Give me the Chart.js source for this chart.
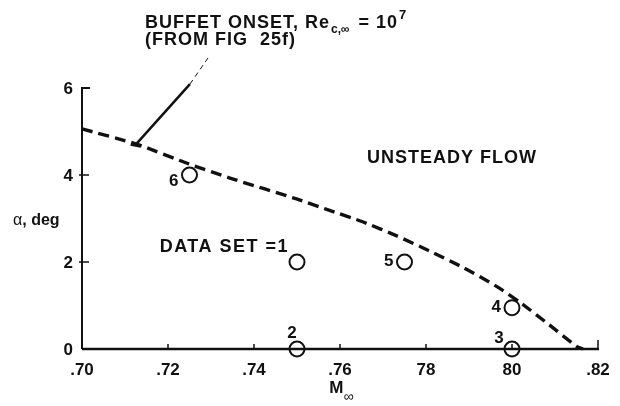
<!DOCTYPE html>
<html>
<head>
<meta charset="utf-8">
<script src="https://cdn.jsdelivr.net/npm/chart.js@4"></script>
<style>
    html, body { margin: 0; padding: 0; background: #ffffff; }
    canvas { display: block; }
</style>
</head>
<body>
<canvas id="buffetChart" width="620" height="406"></canvas>
<script>
// buffet onset boundary (dashed curve)
const curveMach = [0.700, 0.7127, 0.7247, 0.7344, 0.7499, 0.7569, 0.7654, 0.7732, 0.7809, 0.7887, 0.7964, 0.8019, 0.8081, 0.8150, 0.8165];
const curveAlpha = [5.06, 4.71, 4.26, 3.93, 3.45, 3.21, 2.92, 2.60, 2.25, 1.87, 1.44, 1.07, 0.60, 0.06, 0.00];

// data sets (open circles)
const setNames = ['1', '2', '3', '4', '5', '6'];
const setMach = [0.750, 0.750, 0.800, 0.800, 0.775, 0.725];
const setAlpha = [2.0, 0.0, 0.0, 0.95, 2.0, 4.0];

// axis ticks
const machTicks = [0.70, 0.72, 0.74, 0.76, 0.78, 0.80, 0.82];
const machTickLabels = ['.70', '.72', '.74', '.76', '78', '80', '.82'];
const alphaTicks = [0, 2, 4, 6];
const alphaTickLabels = ['0', '2', '4', '6'];

// leader from the curve up to the note
const leaderMach = [0.7127, 0.7251, 0.7293];
const leaderAlpha = [4.72, 6.09, 6.69];

document.addEventListener('DOMContentLoaded', function () {
    const ink = '#111111';
    const fontFamily = '"Liberation Sans", Arial, Helvetica, sans-serif';

    function toPoints(xs, ys) {
        return xs.map(function (x, i) {
            return { x: x, y: ys[i] };
        });
    }

    function drawText(ctx, text, x, y, size, align, weight, spacing) {
        ctx.font = (weight || 'bold') + ' ' + size + 'px ' + fontFamily;
        ctx.letterSpacing = (spacing || 0) + 'px';
        ctx.textAlign = align || 'left';
        ctx.textBaseline = 'alphabetic';
        ctx.fillText(text, x, y);
        const w = ctx.measureText(text).width;
        ctx.letterSpacing = '0px';
        return w;
    }

    const decorPlugin = {
        id: 'decor',
        afterDatasetsDraw: function (chart) {
            const ctx = chart.ctx;
            const xs = chart.scales.x;
            const ys = chart.scales.y;
            const x0 = xs.getPixelForValue(machTicks[0]);
            const x1 = xs.getPixelForValue(machTicks[machTicks.length - 1]);
            const y0 = ys.getPixelForValue(alphaTicks[0]);
            const y1 = ys.getPixelForValue(alphaTicks[alphaTicks.length - 1]);

            ctx.save();
            ctx.strokeStyle = ink;
            ctx.fillStyle = ink;
            ctx.lineCap = 'butt';

            // axes
            ctx.lineWidth = 2.5;
            ctx.beginPath();
            ctx.moveTo(x0, y0);
            ctx.lineTo(x1 + 1, y0);
            ctx.stroke();
            ctx.lineWidth = 2;
            ctx.beginPath();
            ctx.moveTo(x0, y0);
            ctx.lineTo(x0, y1);
            ctx.lineTo(x0 + 8, y1);
            ctx.stroke();

            // x ticks (pointing up)
            ctx.lineWidth = 1.5;
            machTicks.forEach(function (v, i) {
                const px = xs.getPixelForValue(v);
                const len = i === machTicks.length - 1 ? 9 : 5;
                if (i > 0) {
                    ctx.beginPath();
                    ctx.moveTo(px, y0);
                    ctx.lineTo(px, y0 - len);
                    ctx.stroke();
                }
                drawText(ctx, machTickLabels[i], px, y0 + 26, 17, 'center');
            });

            // y ticks
            alphaTicks.forEach(function (v, i) {
                const py = ys.getPixelForValue(v);
                if (i > 0 && i < alphaTicks.length - 1) {
                    ctx.beginPath();
                    ctx.moveTo(x0 - 3, py);
                    ctx.lineTo(x0 + 7, py);
                    ctx.stroke();
                }
                drawText(ctx, alphaTickLabels[i], x0 - 9, py + 6, 17, 'right');
            });

            // axis titles
            let tx = 13;
            tx += drawText(ctx, 'α', tx, 225, 16, 'left', 'normal');
            drawText(ctx, ', deg', tx, 225, 16, 'left', 'bold');
            const mx = xs.getPixelForValue(0.7575);
            const mw = drawText(ctx, 'M', mx, 393, 17, 'left', 'bold');
            drawText(ctx, '∞', mx + mw, 401, 14, 'left', 'normal');

            // point labels
            setNames.forEach(function (name, i) {
                const cx = xs.getPixelForValue(setMach[i]);
                const cy = ys.getPixelForValue(setAlpha[i]);
                if (name === '1') {
                    drawText(ctx, 'DATA SET =1', cx - 8, cy - 10, 18, 'right', 'bold', 1.5);
                } else if (name === '2') {
                    drawText(ctx, name, cx - 5, cy - 11, 17, 'center');
                } else if (name === '3') {
                    drawText(ctx, name, cx - 13, cy - 6, 17, 'center');
                } else if (name === '6') {
                    drawText(ctx, name, cx - 11, cy + 11, 17, 'right');
                } else {
                    drawText(ctx, name, cx - 11, cy + 4, 17, 'right');
                }
            });

            // region label
            drawText(ctx, 'UNSTEADY FLOW', xs.getPixelForValue(0.7663), ys.getPixelForValue(4.28), 18, 'left', 'bold', 1);

            // leader line: solid part then thin dashes
            ctx.lineWidth = 2.5;
            ctx.beginPath();
            ctx.moveTo(xs.getPixelForValue(leaderMach[0]), ys.getPixelForValue(leaderAlpha[0]));
            ctx.lineTo(xs.getPixelForValue(leaderMach[1]), ys.getPixelForValue(leaderAlpha[1]));
            ctx.stroke();
            ctx.lineWidth = 1;
            ctx.setLineDash([5, 4]);
            ctx.beginPath();
            ctx.moveTo(xs.getPixelForValue(leaderMach[1]), ys.getPixelForValue(leaderAlpha[1]));
            ctx.lineTo(xs.getPixelForValue(leaderMach[2]), ys.getPixelForValue(leaderAlpha[2]));
            ctx.stroke();
            ctx.setLineDash([]);
            // small foot where the leader meets the curve
            ctx.lineWidth = 2;
            ctx.beginPath();
            ctx.moveTo(xs.getPixelForValue(leaderMach[0]) - 6, ys.getPixelForValue(leaderAlpha[0]) + 1);
            ctx.lineTo(xs.getPixelForValue(leaderMach[0]) + 4, ys.getPixelForValue(leaderAlpha[0]) + 3);
            ctx.stroke();

            // note text
            let nx = 145;
            nx += drawText(ctx, 'BUFFET ONSET, Re', nx, 28, 18, 'left', 'bold', 1);
            nx += drawText(ctx, 'c,∞', nx + 1, 33, 12, 'left', 'bold') + 4;
            nx += drawText(ctx, ' = 10', nx, 28, 18, 'left', 'bold', 1);
            drawText(ctx, '7', nx + 1, 19, 13, 'left', 'bold');
            drawText(ctx, '(FROM FIG  25f)', 145, 45, 18, 'left', 'bold', 1);

            ctx.restore();
        }
    };

    const canvas = document.getElementById('buffetChart');
    new Chart(canvas.getContext('2d'), {
        type: 'scatter',
        data: {
            datasets: [
                {
                    type: 'line',
                    label: 'Buffet onset',
                    data: toPoints(curveMach, curveAlpha),
                    borderColor: ink,
                    borderWidth: 3.4,
                    borderDash: [11, 6],
                    pointRadius: 0,
                    tension: 0.2,
                    fill: false,
                    clip: false
                },
                {
                    label: 'Data sets',
                    data: toPoints(setMach, setAlpha),
                    pointRadius: 7.5,
                    pointBorderWidth: 2,
                    pointBackgroundColor: '#ffffff',
                    pointBorderColor: ink,
                    clip: false
                }
            ]
        },
        options: {
            responsive: false,
            animation: false,
            layout: {
                padding: { left: 82, right: 22, top: 88, bottom: 57 }
            },
            scales: {
                x: {
                    type: 'linear',
                    min: 0.70,
                    max: 0.82,
                    display: false
                },
                y: {
                    type: 'linear',
                    min: 0,
                    max: 6,
                    display: false
                }
            },
            plugins: {
                legend: { display: false },
                tooltip: { enabled: false }
            }
        },
        plugins: [decorPlugin]
    });
});
</script>
</body>
</html>
